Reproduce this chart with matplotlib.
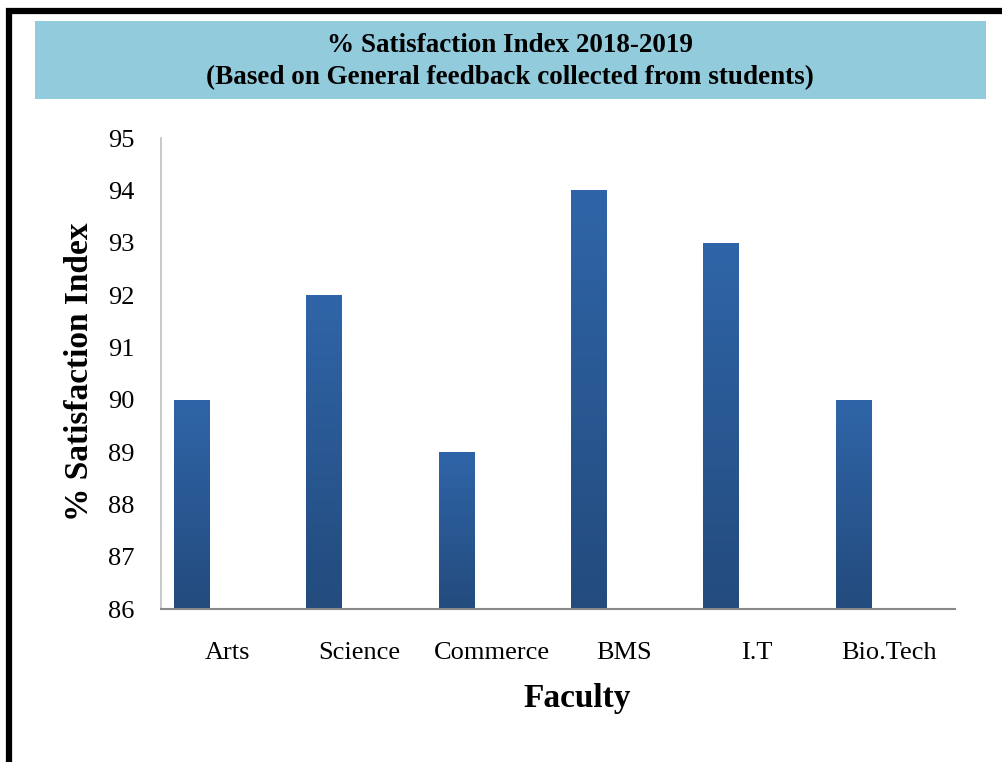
import numpy as np
import matplotlib
matplotlib.use("Agg")
import matplotlib.pyplot as plt
from matplotlib.colors import LinearSegmentedColormap
from matplotlib.patches import Rectangle

faculties = ["Arts", "Science", "Commerce", "BMS", "I.T", "Bio.Tech"]
satisfaction = [90, 92, 89, 94, 93, 90]
y_ticks = [86, 87, 88, 89, 90, 91, 92, 93, 94, 95]

plt.rcParams["font.family"] = ["Liberation Serif", "DejaVu Serif"]

fig = plt.figure(figsize=(10.03, 7.62), dpi=100)
ax = fig.add_axes([161 / 1003, 1 - 609 / 762, (955 - 161) / 1003, (609 - 138) / 762])

# bars sit in the left part of each slot (empty second series in the original)
x = np.arange(len(faculties))
bars = ax.bar(x - 0.265, np.array(satisfaction) - y_ticks[0], width=0.272,
              bottom=y_ticks[0], color="none", edgecolor="none", zorder=2)

grad = LinearSegmentedColormap.from_list("barblue", ["#234B7D", "#2F65A8"])
g = np.linspace(0, 1, 256).reshape(-1, 1)
for b in bars:
    x0, y0 = b.get_x(), b.get_y()
    w, h = b.get_width(), b.get_height()
    im = ax.imshow(g, cmap=grad, origin="lower", aspect="auto",
                   extent=[x0, x0 + w, y0, y0 + h], zorder=2)
    im.set_clip_path(b)

ax.set_xlim(-0.5, len(faculties) - 0.5)
ax.set_ylim(y_ticks[0], y_ticks[-1])
ax.set_yticks(y_ticks)
ax.set_xticks(x)
ax.set_xticklabels(faculties)
ax.tick_params(axis="both", length=0, labelsize=19)
ax.tick_params(axis="x", pad=24)
ax.tick_params(axis="y", pad=19)

for s in ["top", "right"]:
    ax.spines[s].set_visible(False)
ax.spines["left"].set_color("#BFBFBF")
ax.spines["left"].set_linewidth(1.2)
ax.spines["bottom"].set_color("#898989")
ax.spines["bottom"].set_linewidth(1.5)

fig.text(80 / 1003, 1 - 372 / 762, "% Satisfaction Index", rotation=90,
         ha="center", va="center", fontsize=24, fontweight="bold")
fig.text(577 / 1003, 1 - 699 / 762, "Faculty", ha="center", va="center",
         fontsize=24, fontweight="bold")

# title band
fig.patches.append(Rectangle((35 / 1003, 1 - 99 / 762), (986 - 35) / 1003, 78 / 762,
                             transform=fig.transFigure, facecolor="#92CBDC",
                             edgecolor="none", zorder=0))
fig.text(510 / 1003, 1 - 45 / 762, "% Satisfaction Index 2018-2019",
         ha="center", va="center", fontsize=19.5, fontweight="bold")
fig.text(510 / 1003, 1 - 78 / 762, "(Based on General feedback collected from students)",
         ha="center", va="center", fontsize=19.5, fontweight="bold")

# black frame (runs off the right and bottom edges)
fig.patches.append(Rectangle((9 / 1003, -0.2), 1.3, 1.2 - 11 / 762,
                             transform=fig.transFigure, fill=False,
                             edgecolor="black", linewidth=4.5, zorder=5))

fig.savefig("out.png", dpi=100)
